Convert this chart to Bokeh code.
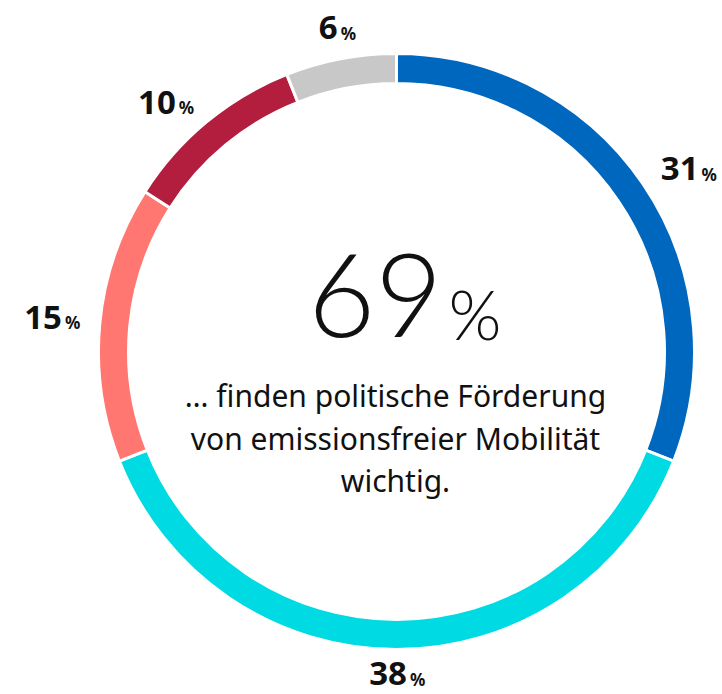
import math

from bokeh.core.properties import value
from bokeh.embed import file_html
from bokeh.models import ColumnDataSource, Range1d
from bokeh.plotting import figure
from bokeh.resources import INLINE

# Survey shares, clockwise from 12 o'clock
shares = [31, 38, 15, 10, 6]
colors = ["#0067BE", "#00DAE3", "#FF7770", "#B31E3E", "#C8C8C8"]
headline = "69"
caption = ["… finden politische Förderung",
           "von emissionsfreier Mobilität",
           "wichtig."]

W, H = 722, 694
CX, CY = 396, H - 351
R_OUT, R_IN = 298, 268

NUM_SIZE, PCT_SIZE = 33, 17
BIG_SIZE, BIG_PCT_SIZE = 116, 68
CAP_SIZE = 30
# the renderer places text a bit below the requested baseline; compensate
DROP = 0.36


def base_y(screen_y, size):
    """Data y for a text whose baseline should sit at screen_y."""
    return H - screen_y + DROP * size


p = figure(width=W, height=H, output_backend="svg", toolbar_location=None,
           x_range=Range1d(0, W), y_range=Range1d(0, H),
           min_border=0, outline_line_color=None, background_fill_color="white")
p.axis.visible = False
p.grid.visible = False

total = float(sum(shares))
starts, ends, mids = [], [], []
acc = 0.0
for s in shares:
    a0 = math.pi / 2 - 2 * math.pi * acc / total
    acc += s
    a1 = math.pi / 2 - 2 * math.pi * acc / total
    starts.append(a0)
    ends.append(a1)
    mids.append((a0 + a1) / 2)

ring = ColumnDataSource(dict(start=starts, end=ends, color=colors,
                             x=[CX] * len(shares), y=[CY] * len(shares)))
p.annular_wedge(x="x", y="y", inner_radius=R_IN, outer_radius=R_OUT,
                start_angle="start", end_angle="end", direction="clock",
                fill_color="color", line_color="white", line_width=3,
                source=ring)

# percentage labels: anchored on a circle just outside the ring at the
# slice's mid angle; side labels hang off the anchor to the left/right,
# top and bottom labels sit centred above/below it
R_ANCHOR, CAP_H = 318, 23
DIGIT_W, PCT_W, GAP = 19.5, 15, 3
MAX_BASELINE = H - 9  # keep descenders inside the page
nx, ny, px, py, texts = [], [], [], [], []
for s, m in zip(shares, mids):
    num_w = DIGIT_W * len(str(s))
    box_w = num_w + GAP + PCT_W
    ax = CX + R_ANCHOR * math.cos(m)
    ay = H - (CY + R_ANCHOR * math.sin(m))
    if abs(math.cos(m)) > 0.5:
        left = ax if math.cos(m) > 0 else ax - box_w
        baseline = ay - 4 + CAP_H / 2
    else:
        left = ax - box_w / 2
        baseline = ay if math.sin(m) > 0 else ay + CAP_H
    baseline = min(baseline, MAX_BASELINE)
    nx.append(left + num_w)
    px.append(left + num_w + GAP)
    ny.append(base_y(baseline, NUM_SIZE))
    py.append(base_y(baseline, PCT_SIZE))
    texts.append(str(s))

p.text(x=nx, y=ny, text=texts, text_align="right",
       text_baseline="alphabetic", text_font=value("Noto Sans"),
       text_font_style="bold", text_font_size=f"{NUM_SIZE}px", text_color="#111111")
p.text(x=px, y=py, text=["%"] * len(shares), text_align="left",
       text_baseline="alphabetic", text_font=value("Noto Sans"),
       text_font_style="bold", text_font_size=f"{PCT_SIZE}px", text_color="#111111")

# centre headline
p.text(x=[CX + 46], y=[base_y(337, BIG_SIZE)], text=[headline], text_align="right",
       text_baseline="alphabetic", text_font=value("Lato Light"),
       text_font_size=f"{BIG_SIZE}px", text_color="#111111")
p.text(x=[CX + 52], y=[base_y(337, BIG_PCT_SIZE)], text=["%"], text_align="left",
       text_baseline="alphabetic", text_font=value("Lato Light"),
       text_font_size=f"{BIG_PCT_SIZE}px", text_color="#111111")

# caption under the headline
p.text(x=[CX - 1] * len(caption),
       y=[base_y(406 + 42.5 * i, CAP_SIZE) for i in range(len(caption))],
       text=caption, text_align="center", text_baseline="alphabetic",
       text_font=value("Noto Sans"), text_font_size=f"{CAP_SIZE}px",
       text_color="#111111")

open("out.html", "w").write(file_html(p, INLINE))
